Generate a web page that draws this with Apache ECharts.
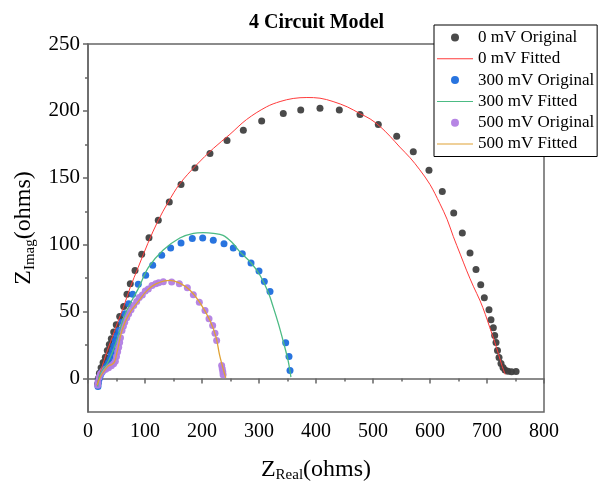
<!DOCTYPE html>
<html>
<head>
<meta charset="utf-8">
<script src="https://cdn.jsdelivr.net/npm/echarts@6/dist/echarts.min.js"></script>
<style>
  html, body { margin: 0; padding: 0; background: #fff; }
  #chart { width: 601px; height: 489px; }
</style>
</head>
<body>
<div id="chart"></div>
<script>
// Nyquist data, [Z_real, Z_imag] in ohms
const zeroOriginal = [[17,-4],[18,0],[20,4],[23,8],[26.5,12],[30.4,15.9],[33.9,21],[37.4,25.4],[40.9,29.7],[45.1,34.7],[49.6,40.2],[55.6,46.4],[62.6,53.9],[68.4,62.9],[74.2,70.9],[82.5,80.8],[94.2,92.8],[107,105.3],[123.3,118.3],[142.6,132],[163.2,145],[187.7,157.4],[214,168.2],[243.9,177.9],[272.5,185.6],[304.7,192.4],[342.6,198.1],[373.2,200.6],[407,201.9],[440.9,200.6],[477.2,197.4],[509.3,189.9],[541.6,181.1],[570.7,169.4],[598.2,155.7],[621.6,139.7],[641.6,123.7],[656.7,108.8],[670.2,93.8],[680.7,81.4],[689,70.1],[695.3,60.4],[703.5,51.4],[707,43.9],[711.1,37.9],[713.5,32.2],[715.8,26.9],[718.4,21],[721.1,15.7],[724.6,11.2],[728.1,8.2],[731.6,6.4],[736.8,5.5],[743,5],[751,5.2]];
const zeroFitted = [[16,-5],[18,-1],[21,4],[25,9.5],[30,16],[36,23.5],[43,31.5],[52,42],[62,53],[74,68],[88,83],[105,101],[123,118],[141,132],[161,145.5],[190,159.5],[220,172],[249,182.5],[278,193.5],[313,203],[337,207],[360,209.3],[384,210],[407,209.5],[430,207],[455,203],[477,198],[495,194],[512,188.5],[530,181],[547,173],[565,165],[582,156],[600,145],[617,131],[630,119],[641,106],[653,93],[664,81],[676,69],[688,58],[697,48],[705,38],[713,28],[720,18.5],[726,10],[732,3]];
const mv300Original = [[17.5,-6],[18,-3.5],[18.8,-1.5],[20,0.5],[21.6,2.2],[24,4.5],[27.5,6.5],[30,8],[33.3,9.7],[36,12],[39.1,14.7],[41,18],[43.3,21],[45.5,24.5],[47.9,28.4],[50.5,32],[53.8,35.9],[59.6,42.1],[64.4,48.4],[71.4,55.9],[78.4,62.9],[88.2,70.4],[101.2,77.1],[113.5,84.6],[129.3,92.1],[145,97.5],[163.2,101.3],[183,104.6],[201.2,105],[219.8,103.3],[238.6,100.8],[254.9,97.5],[270.7,93.3],[286,86.3],[300,80.3],[309.3,72.6],[319.3,65.1],[346.8,26.7],[352.6,16.5],[354.4,6]];
const mv300Fitted = [[17,-6],[18.5,-1],[21,3],[26,7],[32,10],[38,15],[44,21],[50,28],[57,38],[64,47],[74,56],[88,67],[106,83],[132,96],[161,105],[185,108.5],[202,109],[220,108.5],[237,107],[252,102],[267,94.5],[287,86],[302,77],[316,64.6],[325,53.4],[334,41],[343,27],[351,13.5],[356,1]];
const mv500Original = [[17,-5],[17.5,-2.5],[19.5,1],[22,3.5],[26,5.5],[31,7],[36,8],[41,9.5],[45,11],[48,13],[50,16.5],[52,20],[53.8,23.4],[55.5,27],[57,30.5],[59.6,35.9],[62,39],[64.4,42.1],[68,45.5],[71.4,48.4],[75.5,51.5],[80.2,54.6],[85.4,57.5],[90,60.5],[95.3,62.5],[100.5,65.5],[105.8,67],[112.3,69.6],[118.8,70.8],[124,71.5],[132.1,72.3],[146.8,72.1],[160.2,70.9],[174.3,67.9],[184.8,62.6],[195.3,57.1],[205.3,50.9],[212.3,44.7],[218.7,39.7],[222.8,33.9],[225.7,28.4],[234.5,9.7],[235.5,7.3],[236.5,5],[237,2.8]];
const mv500Fitted = [[16,-5],[19,-1.5],[24,3],[30,6.5],[36,9.5],[42,10.5],[47,13],[50,18],[53,23.5],[56,30],[59,35],[65,42],[72,48],[78,52],[88,57.5],[103,65.5],[120,70.9],[144,73.4],[161,71.3],[179,66],[196,57],[214,43.4],[224.6,31],[230.4,18.5],[236.3,8.5],[241.6,0.5]];

const yMajorTicks = [0, 50, 100, 150, 200, 250];
const yMinorTicks = [25, 75, 125, 175, 225];

const serif = "'Liberation Serif', 'Times New Roman', serif";
const axisGray = '#666';
// thin horizontal bar used as the legend icon of the fitted curves
const lineIcon = 'path://M0,0 H36 V1 H0 Z';

const chart = echarts.init(document.getElementById('chart'), null, { renderer: 'canvas' });

function scatterSeries(name, data, color) {
  return {
    name, type: 'scatter', data,
    symbol: 'circle', symbolSize: 7,
    itemStyle: { color: color, opacity: 0.95 },
    emphasis: { disabled: true }
  };
}
function fitSeries(name, data, color, width) {
  return {
    name, type: 'line', data,
    symbol: 'none', smooth: 0.35,
    lineStyle: { color: color, width: width },
    itemStyle: { color: color },
    emphasis: { disabled: true }
  };
}

chart.setOption({
  animation: false,
  backgroundColor: '#fff',
  title: {
    text: '4 Circuit Model',
    left: 244, top: 8,
    textStyle: { fontFamily: serif, fontWeight: 'bold', fontSize: 20, color: '#000' }
  },
  grid: {
    left: 88, right: 57, top: 44, bottom: 77,
    show: true, borderColor: axisGray, borderWidth: 1.5
  },
  legend: {
    orient: 'vertical', left: 434, top: 25,
    backgroundColor: '#fff', borderColor: '#000', borderWidth: 1,
    padding: [2, 3, 2, 3],
    itemWidth: 36, itemHeight: 8, itemGap: 0.3,
    textStyle: { fontFamily: serif, fontSize: 17, color: '#000', lineHeight: 21 },
    data: [
      { name: '0 mV Original', icon: 'circle' },
      { name: '0 mV Fitted', icon: lineIcon },
      { name: '300 mV Original', icon: 'circle' },
      { name: '300 mV Fitted', icon: lineIcon },
      { name: '500 mV Original', icon: 'circle' },
      { name: '500 mV Fitted', icon: lineIcon }
    ]
  },
  xAxis: {
    type: 'value', min: 0, max: 800, interval: 100,
    name: '{m|Z}{s|Real}{m|(ohms)}',
    nameLocation: 'middle', nameGap: 44,
    nameTextStyle: {
      fontFamily: serif, color: '#000',
      rich: {
        m: { fontFamily: serif, fontSize: 24, color: '#000' },
        s: { fontFamily: serif, fontSize: 15, color: '#000', padding: [12, 0, 0, 0] }
      }
    },
    axisLine: { lineStyle: { color: axisGray, width: 1.5 } },
    axisTick: { length: 5, lineStyle: { color: axisGray, width: 1.5 } },
    minorTick: { show: true, splitNumber: 2, length: 3, lineStyle: { color: axisGray, width: 1.5 } },
    splitLine: { show: false },
    axisLabel: { fontFamily: serif, fontSize: 20, color: '#000', margin: 10 }
  },
  yAxis: [{
    type: 'value', min: -25, max: 250,
    name: '{m|Z}{s|Imag}{m|(ohms)}',
    nameLocation: 'middle', nameGap: 40,
    nameTextStyle: {
      fontFamily: serif, color: '#000',
      rich: {
        m: { fontFamily: serif, fontSize: 24, color: '#000' },
        s: { fontFamily: serif, fontSize: 15, color: '#000', padding: [12, 0, 0, 0] }
      }
    },
    axisLine: { lineStyle: { color: axisGray, width: 1.5 } },
    axisTick: { customValues: yMajorTicks, length: 5, lineStyle: { color: axisGray, width: 1.5 } },
    splitLine: { show: false },
    axisLabel: { customValues: yMajorTicks, fontFamily: serif, fontSize: 21, color: '#000', margin: 8 }
  }, {
    type: 'value', min: -25, max: 250, position: 'left',
    axisLine: { show: false },
    axisTick: { customValues: yMinorTicks, length: 3, lineStyle: { color: axisGray, width: 1.5 } },
    axisLabel: { show: false },
    splitLine: { show: false }
  }],
  series: [
    scatterSeries('0 mV Original', zeroOriginal, '#404040'),
    fitSeries('0 mV Fitted', zeroFitted, '#ff3b3b', 1),
    scatterSeries('300 mV Original', mv300Original, '#1c6ddd'),
    fitSeries('300 mV Fitted', mv300Fitted, '#4cbb84', 1.3),
    scatterSeries('500 mV Original', mv500Original, '#b27ee3'),
    fitSeries('500 mV Fitted', mv500Fitted, '#e0a235', 1.3)
  ]
});
</script>
</body>
</html>
